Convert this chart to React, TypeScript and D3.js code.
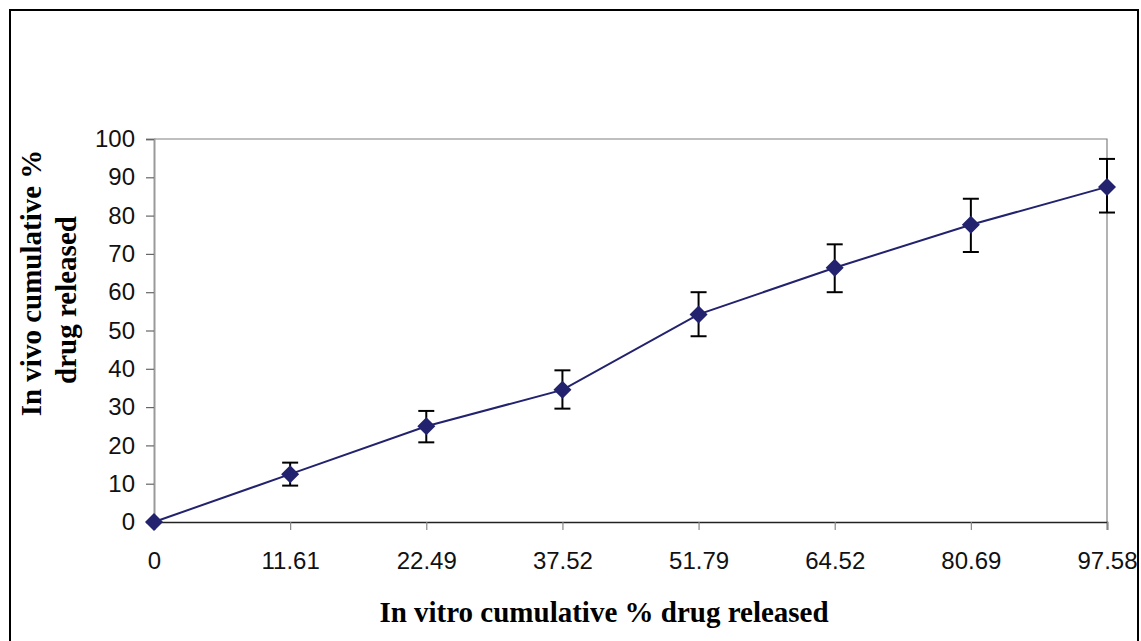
import React, { useEffect, useRef } from "react";
import * as d3 from "d3";

// in vitro release (categories on x), in vivo release (y) with error limits
const categories = ["0", "11.61", "22.49", "37.52", "51.79", "64.52", "80.69", "97.58"];
const values = [0, 12.5, 25, 34.5, 54.2, 66.4, 77.6, 87.5];
const errLow = [0, 9.5, 20.8, 29.6, 48.5, 60, 70.5, 80.8];
const errHigh = [0, 15.5, 29, 39.6, 60, 72.5, 84.4, 94.8];
const yTicks = [0, 10, 20, 30, 40, 50, 60, 70, 80, 90, 100];

const W = 1141;
const H = 641;

export default function App() {
  const ref = useRef<SVGSVGElement>(null);

  useEffect(() => {
    const svg = d3.select(ref.current);
    svg.selectAll("*").remove();

    const left = 154;
    const right = 1107;
    const top = 139;
    const bottom = 522;

    const x = d3
      .scalePoint()
      .domain(categories)
      .range([left, right]);
    const y = d3.scaleLinear().domain([0, 100]).range([bottom, top]);

    // outer frame
    svg
      .append("rect")
      .attr("x", 10)
      .attr("y", 10)
      .attr("width", 1128)
      .attr("height", 640)
      .attr("fill", "white")
      .attr("stroke", "#000")
      .attr("stroke-width", 2);

    // plot area border (top + right)
    svg
      .append("path")
      .attr("d", `M${left},${top}H${right}V${bottom}`)
      .attr("fill", "none")
      .attr("stroke", "#808080")
      .attr("stroke-width", 1.2);

    // y axis
    const yAxis = svg
      .append("g")
      .attr("transform", `translate(${left},0)`)
      .call(d3.axisLeft(y).tickValues(yTicks).tickSize(8).tickPadding(11));
    yAxis.select(".domain").attr("stroke", "#999").attr("stroke-width", 2);
    yAxis.selectAll(".tick line").attr("stroke", "#666").attr("stroke-width", 1.2);
    yAxis
      .selectAll(".tick text")
      .attr("font-family", "Liberation Sans, Arial, sans-serif")
      .attr("font-size", 24)
      .attr("fill", "#111");

    // x axis
    const xAxis = svg
      .append("g")
      .attr("transform", `translate(0,${bottom})`)
      .call(d3.axisBottom(x).tickSize(8).tickPadding(22));
    xAxis.select(".domain").attr("stroke", "#222").attr("stroke-width", 1.6);
    xAxis.selectAll(".tick line").attr("stroke", "#888").attr("stroke-width", 1.2);
    xAxis
      .selectAll(".tick text")
      .attr("font-family", "Liberation Sans, Arial, sans-serif")
      .attr("font-size", 24)
      .attr("fill", "#111");

    // titles
    svg
      .append("text")
      .attr("x", 604)
      .attr("y", 622)
      .attr("text-anchor", "middle")
      .attr("font-family", "Liberation Serif, Times New Roman, serif")
      .attr("font-weight", "bold")
      .attr("font-size", 29)
      .text("In vitro cumulative % drug released");

    const yTitle = svg
      .append("text")
      .attr("transform", "rotate(-90)")
      .attr("text-anchor", "middle")
      .attr("font-family", "Liberation Serif, Times New Roman, serif")
      .attr("font-weight", "bold")
      .attr("font-size", 29);
    yTitle.append("tspan").attr("x", -283).attr("y", 41).text("In vivo cumulative %");
    yTitle.append("tspan").attr("x", -300).attr("y", 76).text("drug released");

    const data = categories.map((c, i) => ({
      c,
      v: values[i],
      lo: errLow[i],
      hi: errHigh[i],
    }));

    // error bars
    const eb = svg
      .append("g")
      .selectAll("g")
      .data(data.filter((d) => d.hi > d.lo))
      .join("g")
      .attr("stroke", "#000")
      .attr("stroke-width", 2);
    eb.append("line")
      .attr("x1", (d) => x(d.c)!)
      .attr("x2", (d) => x(d.c)!)
      .attr("y1", (d) => y(d.lo))
      .attr("y2", (d) => y(d.hi));
    eb.append("line")
      .attr("x1", (d) => x(d.c)! - 8)
      .attr("x2", (d) => x(d.c)! + 8)
      .attr("y1", (d) => y(d.lo))
      .attr("y2", (d) => y(d.lo));
    eb.append("line")
      .attr("x1", (d) => x(d.c)! - 8)
      .attr("x2", (d) => x(d.c)! + 8)
      .attr("y1", (d) => y(d.hi))
      .attr("y2", (d) => y(d.hi));

    // line
    svg
      .append("path")
      .datum(data)
      .attr("fill", "none")
      .attr("stroke", "#22226e")
      .attr("stroke-width", 2)
      .attr(
        "d",
        d3
          .line<any>()
          .x((d) => x(d.c)!)
          .y((d) => y(d.v))
      );

    // diamond markers
    svg
      .append("g")
      .selectAll("path")
      .data(data)
      .join("path")
      .attr("transform", (d) => `translate(${x(d.c)},${y(d.v)})`)
      .attr("d", "M0,-9L9,0L0,9L-9,0Z")
      .attr("fill", "#22226e");
  }, []);

  return (
    <svg
      ref={ref}
      width={W}
      height={H}
      style={{ position: "absolute", left: 0, top: 0, background: "white" }}
    />
  );
}
